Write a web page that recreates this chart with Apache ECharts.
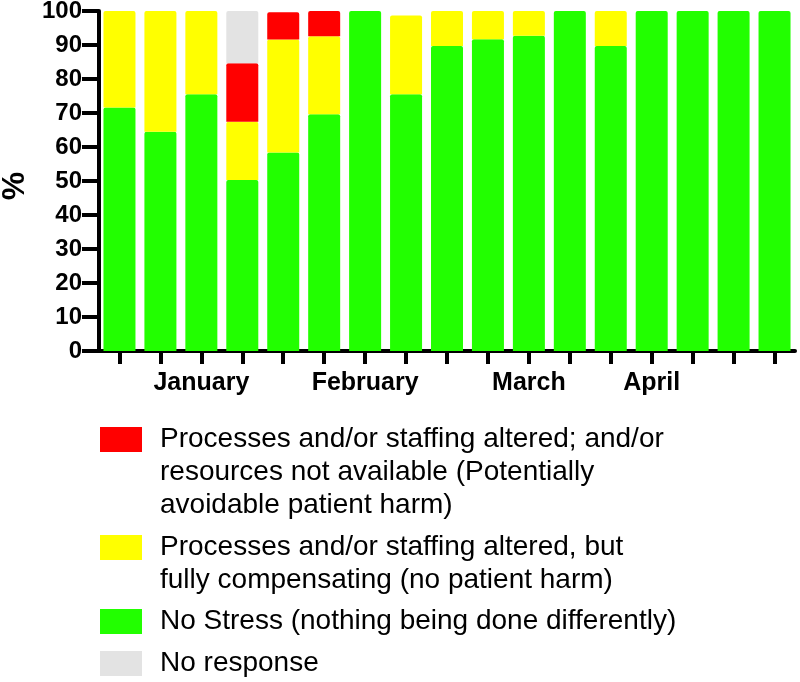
<!DOCTYPE html>
<html>
<head>
<meta charset="utf-8">
<script src="https://cdn.jsdelivr.net/npm/echarts@6/dist/echarts.min.js"></script>
<style>html,body{margin:0;padding:0;background:#fff;}#c{width:800px;height:682px;}</style>
</head>
<body>
<div id="c"></div>
<script>
// ---- data ----
var weeks = ['W1','W2','W3','W4','W5','W6','W7','W8','W9','W10','W11','W12','W13','W14','W15','W16','W17'];
var monthLabels = ['', '', 'January', '', '', '', 'February', '', '', '', 'March', '', '', 'April', '', '', ''];
var noStress   = [71.6, 64.5, 75.5, 50.3, 58.4, 69.6, 100, 75.5, 89.7, 91.7, 92.7, 100, 89.7, 100, 100, 100, 100];
var compensate = [28.4, 35.5, 24.5, 17.1, 33.2, 23.0, 0, 23.2, 10.3, 8.3, 7.3, 0, 10.3, 0, 0, 0, 0];
var harm       = [0, 0, 0, 17.2, 8.0, 7.4, 0, 0, 0, 0, 0, 0, 0, 0, 0, 0, 0];
var noResponse = [0, 0, 0, 15.4, 0, 0, 0, 0, 0, 0, 0, 0, 0, 0, 0, 0, 0];
var yTicks = [0, 10, 20, 30, 40, 50, 60, 70, 80, 90, 100];

var NAME_RED = 'Processes and/or staffing altered; and/or\nresources not available (Potentially\navoidable patient harm)';
var NAME_YEL = 'Processes and/or staffing altered, but\nfully compensating (no patient harm)';
var NAME_GRN = 'No Stress (nothing being done differently)';
var NAME_GRY = 'No response';

var FONT = "'Liberation Sans', Arial, Helvetica, sans-serif";
var LH = 33;

function legendFor(name, lines, iconTop) {
  var boxTop = 12.5 - (2 * lines - 1) * LH / 2;
  var prefix = new Array(lines).join('\n');
  return {
    data: [{ name: name, icon: 'rect' }],
    left: 100,
    top: iconTop + boxTop,
    padding: 0,
    itemWidth: 42,
    itemHeight: 25,
    selectedMode: false,
    formatter: function (n) { return prefix + n; },
    textStyle: {
      fontFamily: FONT, fontSize: 28, lineHeight: LH, color: '#000',
      padding: [0, 0, 0, 13]
    }
  };
}

var chart = echarts.init(document.getElementById('c'), null, { renderer: 'canvas' });
var segStyle = function (c) { return { color: c, borderRadius: [2, 2, 0, 0] }; };
chart.setOption({
  animation: false,
  backgroundColor: '#fff',
  grid: { left: 99, right: 5, top: 11, bottom: 331, containLabel: false, outerBoundsMode: 'none' },
  legend: [
    legendFor(NAME_RED, 3, 427),
    legendFor(NAME_YEL, 2, 535),
    legendFor(NAME_GRN, 1, 609),
    legendFor(NAME_GRY, 1, 651)
  ],
  xAxis: {
    type: 'category',
    data: weeks,
    axisLine: { lineStyle: { color: '#000', width: 4 } },
    axisTick: { show: true, alignWithLabel: true, interval: 0, length: 13, lineStyle: { color: '#000', width: 4 } },
    axisLabel: {
      interval: 0, margin: 20, color: '#000', fontFamily: FONT, fontWeight: 'bold', fontSize: 25,
      formatter: function (v, i) { return monthLabels[i]; }
    },
    splitLine: { show: false }
  },
  yAxis: {
    type: 'value',
    min: yTicks[0], max: yTicks[yTicks.length - 1], interval: 10,
    name: '%', nameLocation: 'middle', nameRotate: 90, nameGap: 66,
    nameTextStyle: { color: '#000', fontFamily: FONT, fontWeight: 'bold', fontSize: 32, padding: [0, 10, 0, 0] },
    axisLine: { show: true, lineStyle: { color: '#000', width: 4 } },
    axisTick: { show: true, length: 17, lineStyle: { color: '#000', width: 4 } },
    axisLabel: { margin: 17, color: '#000', fontFamily: FONT, fontWeight: 'bold', fontSize: 24 },
    splitLine: { show: false }
  },
  series: [
    { name: NAME_GRN, type: 'bar', stack: 's', barWidth: 32, data: noStress, itemStyle: segStyle('#22FF00') },
    { name: NAME_YEL, type: 'bar', stack: 's', barWidth: 32, data: compensate, itemStyle: segStyle('#FFFF00') },
    { name: NAME_RED, type: 'bar', stack: 's', barWidth: 32, data: harm, itemStyle: segStyle('#FF0000') },
    { name: NAME_GRY, type: 'bar', stack: 's', barWidth: 32, data: noResponse, itemStyle: segStyle('#E3E3E3') }
  ]
});
</script>
</body>
</html>
